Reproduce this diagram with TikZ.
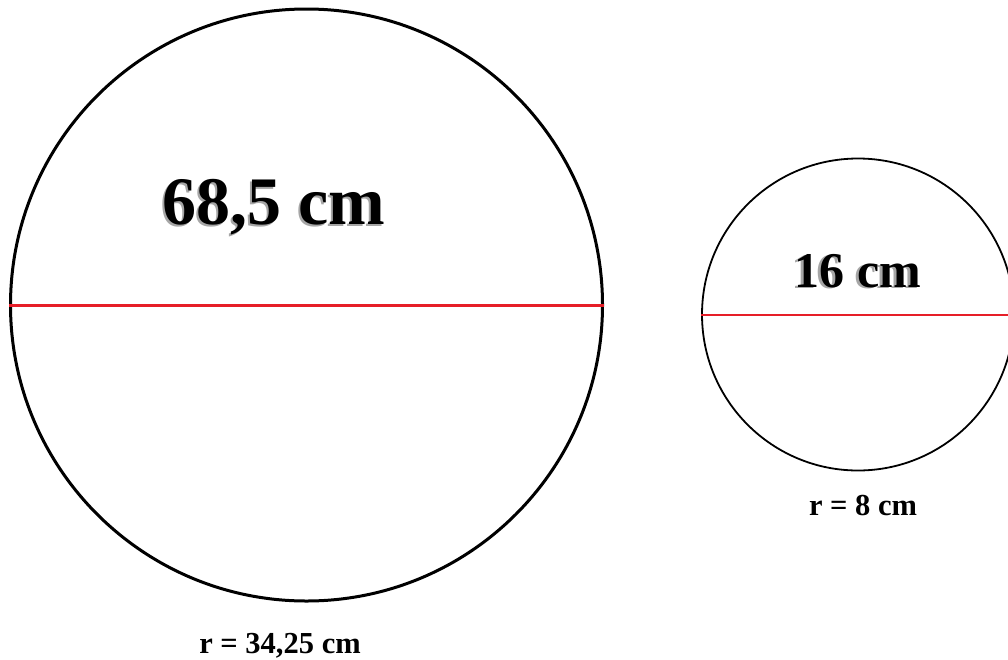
\documentclass[tikz,border=0pt]{standalone}
\usepackage{fontspec}
\setmainfont{Liberation Serif}
\begin{document}
\begin{tikzpicture}[x=1pt,y=-1pt,
  bigcirc/.style={circle,draw=black,line width=3pt,minimum size=592pt,inner sep=0pt},
  smallcirc/.style={circle,draw=black,line width=1.8pt,minimum size=312pt,inner sep=0pt},
  diam/.style={draw={rgb,255:red,230;green,30;blue,40}},
  bigtxt/.style={font=\bfseries\fontsize{68}{68}\selectfont,anchor=base,inner sep=0pt},
  midtxt/.style={font=\bfseries\fontsize{50}{50}\selectfont,anchor=base,inner sep=0pt},
  rtxt/.style={font=\bfseries\fontsize{30.5}{30.5}\selectfont,anchor=base,inner sep=0pt},
  shadow/.style={text=black!35}]
\useasboundingbox (0,0) rectangle (1008,659);
\node[bigcirc] (c1) at (306.5,305) {};
\node[smallcirc] (c2) at (858,314.5) {};
\draw[diam,line width=3pt] (c1.west) -- (c1.east);
\draw[diam,line width=2pt] (c2.west) -- (c2.east);
\node[bigtxt,shadow] (t1s) at (272,226) {68,5 cm};
\node[bigtxt] (t1) at (274,224) {68,5 cm};
\node[midtxt,shadow] (t2s) at (855,288) {16 cm};
\node[midtxt] (t2) at (858,287) {16 cm};
\node[rtxt] (r1) at (280,653) {r = 34,25 cm};
\node[rtxt] (r2) at (863,515) {r = 8 cm};
\end{tikzpicture}
\end{document}
